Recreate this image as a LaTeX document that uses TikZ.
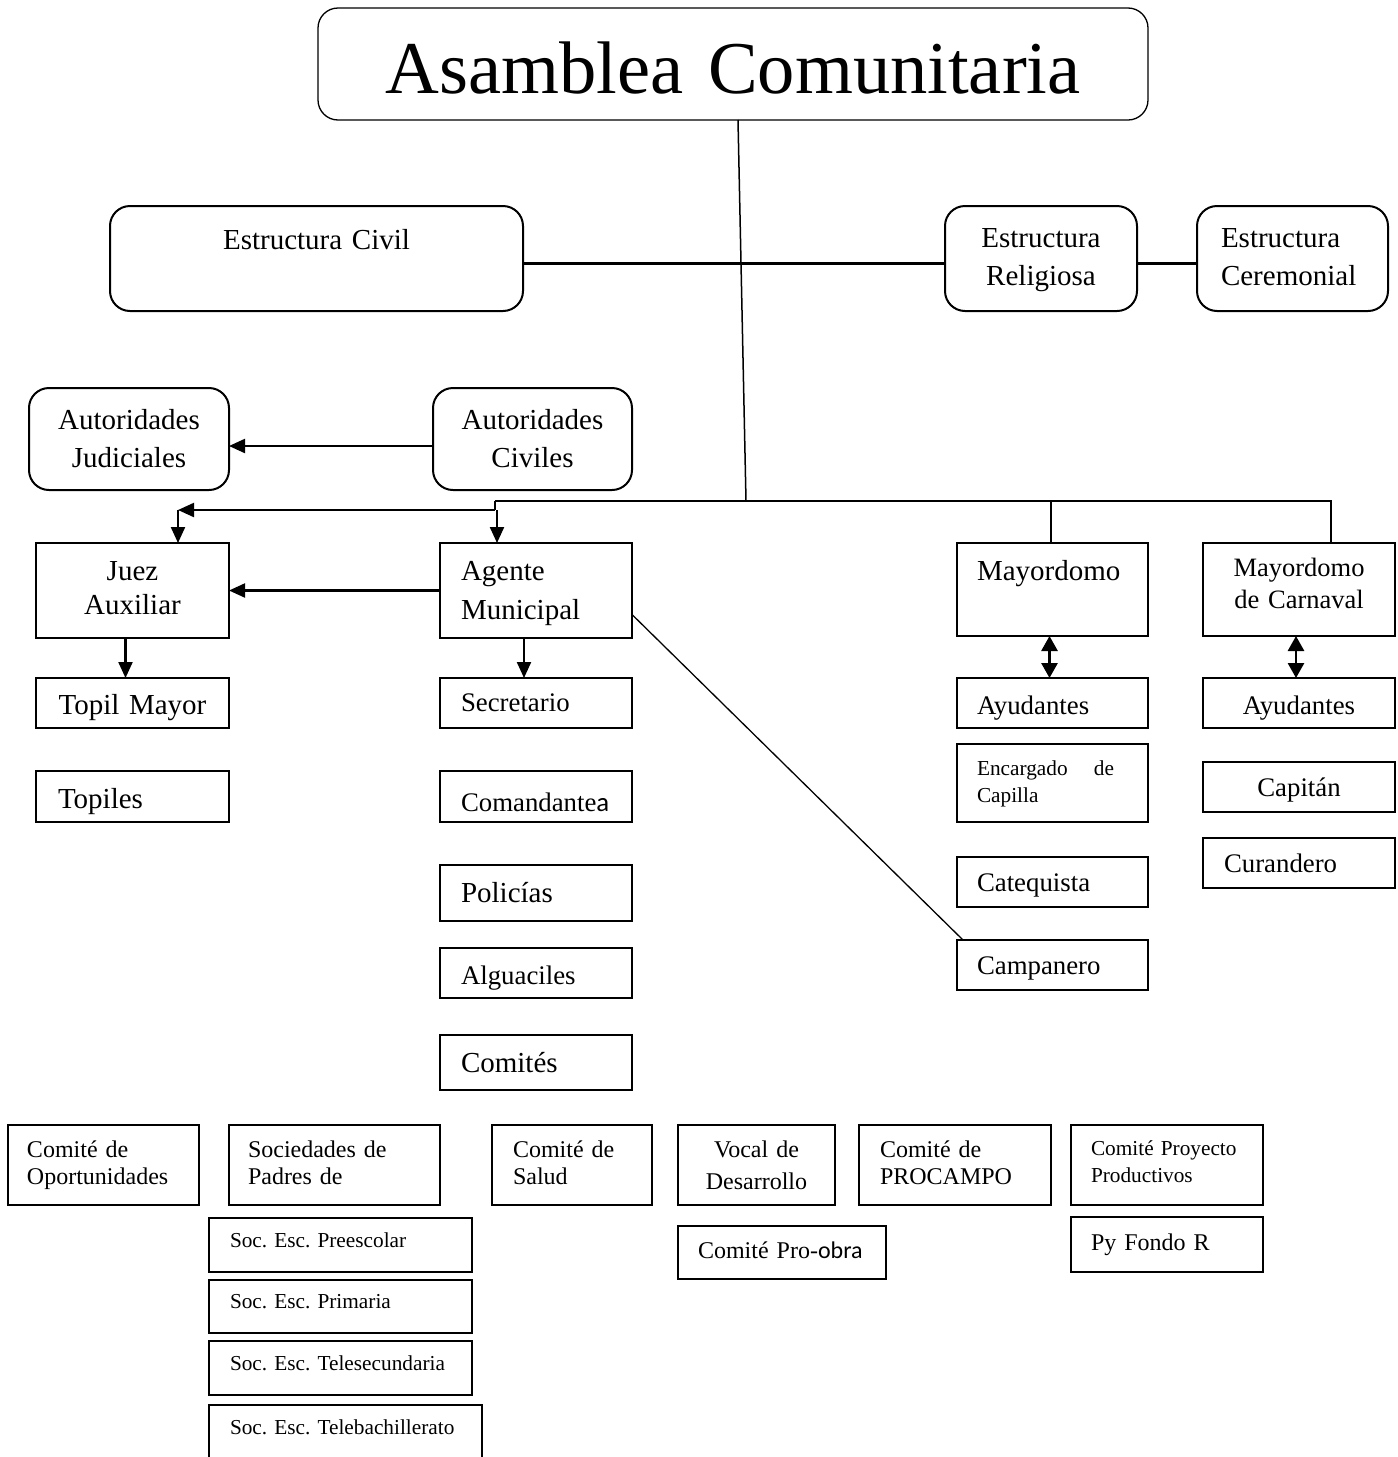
\documentclass[tikz,border=0pt]{standalone}
\usepackage{fontspec}
\setmainfont{Liberation Serif}
\newfontfamily\calibrifont{Carlito}
\usetikzlibrary{arrows.meta}
\hyphenpenalty=10000
\exhyphenpenalty=10000
\frenchspacing

\tikzset{
  box/.style={draw, line width=2pt, anchor=north west, inner ysep=0pt, outer sep=0pt, align=left},
  roundbox/.style={box, rounded corners=20pt},
  link/.style={line width=2.2pt},
  arrow/.style={link, -{Triangle[length=16pt,width=14pt]}},
  twoway/.style={line width=2.8pt, {Triangle[length=15pt,width=16pt]}-{Triangle[length=15pt,width=16pt]}},
  ftitle/.style={font=\fontsize{74.5}{80}\selectfont},
  fbig/.style={font=\fontsize{29}{38}\selectfont},
  fmid/.style={font=\fontsize{26.8}{32}\selectfont},
  fsmall/.style={font=\fontsize{24}{27}\selectfont},
  ftiny/.style={font=\fontsize{21.3}{27}\selectfont},
}

\begin{document}
\begin{tikzpicture}[x=1pt, y=-1pt]

\useasboundingbox (0,0) rectangle (1398,1457);
\clip (0,0) rectangle (1398,1457);

% top
\node[roundbox, ftitle, line width=1.3pt, align=center, minimum width=830pt, text width=790pt, inner xsep=20pt, text height=85pt, text depth=27pt] (asamblea) at (318,8) {Asamblea Comunitaria};

\node[roundbox, fbig, align=center, minimum width=413pt, text width=373pt, inner xsep=20pt, text height=43pt, text depth=62pt] (civil) at (110,206) {Estructura Civil};
\node[roundbox, fbig, align=center, minimum width=192pt, text width=172pt, inner xsep=10pt, text height=41pt, text depth=64pt] (religiosa) at (945,206) {Estructura\\Religiosa};
\node[roundbox, fbig, minimum width=191pt, text width=143pt, inner xsep=24pt, text height=41pt, text depth=64pt] (ceremonial) at (1197,206) {Estructura\\Ceremonial};

\node[roundbox, fbig, align=center, minimum width=200pt, text width=180pt, inner xsep=10pt, text height=41pt, text depth=61pt] (judiciales) at (29,388) {Autoridades\\Judiciales};
\node[roundbox, fbig, align=center, minimum width=199pt, text width=179pt, inner xsep=10pt, text height=41pt, text depth=61pt] (civiles) at (433,388) {Autoridades\\Civiles};

% civil side
\node[box, font=\fontsize{29}{34}\selectfont, align=center, minimum width=193pt, text width=173pt, inner xsep=10pt, text height=37pt, text depth=58pt] (juez) at (36,543) {Juez\\Auxiliar};
\node[box, font=\fontsize{29}{39}\selectfont, minimum width=192pt, text width=150pt, inner xsep=21pt, text height=37pt, text depth=58pt] (agente) at (440,543) {Agente\\Municipal};

\node[box, fbig, align=center, minimum width=193pt, text width=173pt, inner xsep=10pt, text height=36pt, text depth=14pt] (topilmayor) at (36,678) {Topil Mayor};
\node[box, fbig, minimum width=193pt, text width=149pt, inner xsep=22pt, text height=37pt, text depth=14pt] (topiles) at (36,771) {Topiles};

\node[box, fmid, minimum width=192pt, text width=150pt, inner xsep=21pt, text height=33pt, text depth=17pt] (secretario) at (440,678) {Secretario};
\node[box, fmid, minimum width=192pt, text width=150pt, inner xsep=21pt, text height=40pt, text depth=11pt] (comandante) at (440,771) {\mbox{Comandante{\calibrifont a}}};
\node[box, fbig, minimum width=192pt, text width=150pt, inner xsep=21pt, text height=37pt, text depth=19pt] (policias) at (440,865) {Policías};
\node[box, fmid, minimum width=192pt, text width=150pt, inner xsep=21pt, text height=36pt, text depth=14pt] (alguaciles) at (440,948) {Alguaciles};
\node[box, fbig, minimum width=192pt, text width=150pt, inner xsep=21pt, text height=37pt, text depth=18pt] (comites) at (440,1035) {Comités};

% religious side
\node[box, fbig, minimum width=191pt, text width=151pt, inner xsep=20pt, text height=37pt, text depth=56pt] (mayordomo) at (957,543) {Mayordomo};
\node[box, font=\fontsize{26.5}{32}\selectfont, align=center, minimum width=192pt, text width=172pt, inner xsep=10pt, text height=33pt, text depth=60pt] (carnaval) at (1203,543) {Mayordomo\\de Carnaval};

\node[box, fmid, minimum width=191pt, text width=151pt, inner xsep=20pt, text height=36pt, text depth=14pt] (ayudantes) at (957,678) {Ayudantes};
\node[box, fmid, align=center, minimum width=192pt, text width=172pt, inner xsep=10pt, text height=36pt, text depth=14pt] (ayudantesc) at (1203,678) {Ayudantes};

\node[box, ftiny, minimum width=191pt, text width=151pt, inner xsep=20pt, text height=31pt, text depth=47pt] (encargado) at (957,744) {\makebox[137pt][l]{Encargado\hfill de}\\Capilla};
\node[box, fmid, minimum width=191pt, text width=151pt, inner xsep=20pt, text height=34pt, text depth=16pt] (catequista) at (957,857) {Catequista};
\node[box, fmid, minimum width=191pt, text width=151pt, inner xsep=20pt, text height=34pt, text depth=16pt] (campanero) at (957,940) {Campanero};

\node[box, fmid, align=center, minimum width=192pt, text width=172pt, inner xsep=10pt, text height=34pt, text depth=16pt] (capitan) at (1203,762) {Capitán};
\node[box, fmid, minimum width=192pt, text width=150pt, inner xsep=21pt, text height=34pt, text depth=16pt] (curandero) at (1203,838) {Curandero};

% comites
\node[box, fsmall, minimum width=191pt, text width=153pt, inner xsep=19pt, text height=32pt, text depth=48pt] (oportunidades) at (8,1125) {Comité de\\Oportunidades};
\node[box, fsmall, minimum width=211pt, text width=173pt, inner xsep=19pt, text height=32pt, text depth=48pt] (sociedades) at (229,1125) {Sociedades de\\Padres de};
\node[box, fsmall, minimum width=160pt, text width=118pt, inner xsep=21pt, text height=32pt, text depth=48pt] (salud) at (492,1125) {Comité de\\Salud};
\node[box, font=\fontsize{24}{32}\selectfont, align=center, minimum width=157pt, text width=137pt, inner xsep=10pt, text height=32pt, text depth=48pt] (vocal) at (678,1125) {Vocal de\\Desarrollo};
\node[box, fsmall, minimum width=192pt, text width=150pt, inner xsep=21pt, text height=32pt, text depth=48pt] (procampo) at (859,1125) {Comité de\\PROCAMPO};
\node[box, ftiny, minimum width=192pt, text width=152pt, inner xsep=20pt, text height=30pt, text depth=50pt] (proyecto) at (1071,1125) {Comité Proyecto\\Productivos};

\node[box, ftiny, minimum width=263pt, text width=221pt, inner xsep=21pt, text height=29pt, text depth=25pt] (preescolar) at (209,1218) {Soc. Esc. Preescolar};
\node[box, ftiny, minimum width=263pt, text width=221pt, inner xsep=21pt, text height=28pt, text depth=25pt] (primaria) at (209,1280) {Soc. Esc. Primaria};
\node[box, ftiny, minimum width=263pt, text width=221pt, inner xsep=21pt, text height=29pt, text depth=25pt] (telesec) at (209,1341) {\mbox{Soc. Esc. Telesecundaria}};
\node[box, ftiny, minimum width=273pt, text width=231pt, inner xsep=21pt, text height=29pt, text depth=40pt] (telebach) at (209,1405) {\mbox{Soc. Esc. Telebachillerato}};

\node[box, fsmall, minimum width=208pt, text width=168pt, inner xsep=20pt, text height=32pt, text depth=21pt] (proobra) at (678,1226) {\mbox{Comité Pro-{\calibrifont obra}}};
\node[box, fsmall, minimum width=192pt, text width=152pt, inner xsep=20pt, text height=33pt, text depth=22pt] (pyfondo) at (1071,1217) {Py Fondo R};

% lines
\coordinate (hub) at (746,501);
\coordinate (split) at (495,501);
\coordinate (drop) at (495,510);
\coordinate (corner) at (178,510);

\draw[link, line width=1.5pt] ([xshift=5pt]asamblea.south) -- (hub);
\draw[link] ([yshift=-5pt]civil.east) -- ([yshift=-5pt]religiosa.west);
\draw[link] ([yshift=-5pt]religiosa.east) -- ([yshift=-5pt]ceremonial.west);

\draw[link] (split) -- (hub) -| ([xshift=32pt]carnaval.north);
\draw[link] (hub) -| ([xshift=-1.5pt]mayordomo.north);
\draw[link] (split) -- (drop);
\draw[arrow] (drop) -- (corner);
\draw[arrow] (corner) -- (corner |- juez.north);
\draw[arrow] ([xshift=2pt]drop) -- ([xshift=2pt]drop |- agente.north);

\draw[arrow] ([yshift=-7pt]civiles.west) -- ([yshift=-7pt]judiciales.east);
\draw[arrow] (agente.west) -- (juez.east);
\draw[arrow] ([xshift=-7pt]juez.south) -- ([xshift=-7pt]topilmayor.north);
\draw[arrow] ([xshift=-12pt]agente.south) -- ([xshift=-12pt]secretario.north);
\draw[line width=1.3pt] ([yshift=-24pt]agente.east) -- ([xshift=6pt]campanero.north west);

\draw[twoway] ([xshift=-3pt]mayordomo.south) -- ([xshift=-3pt]ayudantes.north);
\draw[twoway] ([xshift=-3pt]carnaval.south) -- ([xshift=-3pt]ayudantesc.north);

\end{tikzpicture}
\end{document}
